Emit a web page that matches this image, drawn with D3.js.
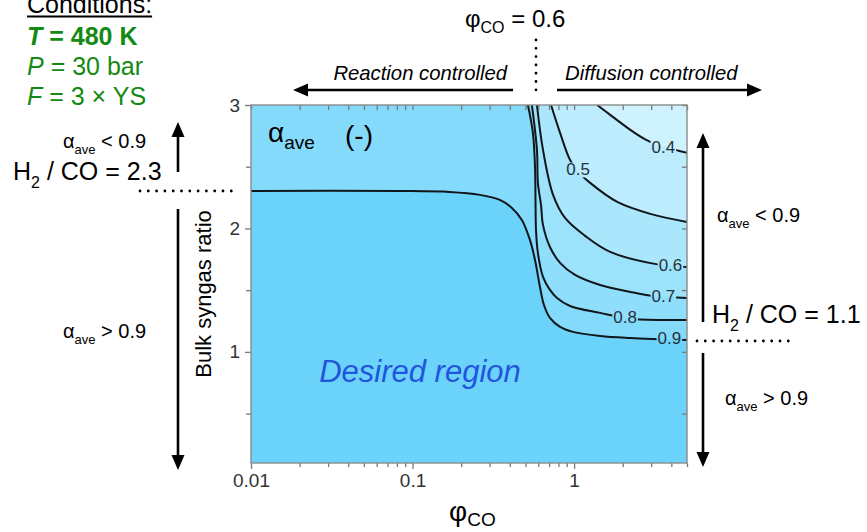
<!DOCTYPE html>
<html><head><meta charset="utf-8">
<script src="https://cdn.jsdelivr.net/npm/d3@7"></script>
<style>
body{margin:0;background:#fff}
svg{display:block;font-family:Arial,"Liberation Sans",sans-serif}
</style>
</head><body>
<svg id="c" width="867" height="532"></svg>
<script>
// ---------- data ----------
const xDomain = [0.01, 5];
const yDomain = [0.1, 3];
const xMajorTicks = [0.01, 0.1, 1];
const xTickLabels = ["0.01", "0.1", "1"];
const xMinorTicks = [0.02,0.03,0.04,0.05,0.06,0.07,0.08,0.09,0.2,0.3,0.4,0.5,0.6,0.7,0.8,0.9,2,3,4,5];
const yMajorTicks = [1, 2, 3];
const yTickLabels = ["1", "2", "3"];
const yMinorTicks = [0.5, 1.5, 2.5];
const contourLevels = [0.4, 0.5, 0.6, 0.7, 0.8, 0.9];
const contour04 = [[1.39,3.0],[1.673,2.92],[2.325,2.782],[2.965,2.701],[5,2.612]];
const contour05 = [[0.720,3.0],[0.819,2.774],[0.944,2.555],[1.059,2.46],[1.257,2.369],[1.85,2.215],[2.965,2.118],[5,2.053]];
const contour06 = [[0.589,3.0],[0.642,2.636],[0.741,2.272],[0.879,2.085],[1.17,1.940],[1.673,1.810],[3.42,1.705],[5,1.688]];
const contour07 = [[0.548,3.0],[0.589,2.636],[0.597,2.369],[0.624,2.191],[0.642,2.029],[0.709,1.850],[0.819,1.721],[1.014,1.624],[1.45,1.542],[2.23,1.486],[3.095,1.453],[5,1.437]];
const contour08 = [[0.518,3.0],[0.556,2.774],[0.573,2.499],[0.577,2.231],[0.581,1.988],[0.597,1.802],[0.642,1.607],[0.709,1.502],[0.784,1.437],[0.944,1.372],[1.45,1.316],[2.325,1.267],[5,1.259]];
const contour09 = [[0.01,2.304],[0.083,2.304],[0.170,2.296],[0.261,2.272],[0.347,2.231],[0.412,2.166],[0.475,2.069],[0.533,1.907],[0.573,1.745],[0.615,1.526],[0.651,1.380],[0.709,1.275],[0.819,1.202],[0.986,1.162],[1.45,1.129],[2.23,1.113],[5,1.097]];
const contourLabelPhi = [3.57, 1.059, 3.95, 3.57, 2.07, 3.89];
const contourLabelRatio = [2.653, 2.474, 1.696, 1.445, 1.275, 1.105];
const regionColors = ["#cff3fe","#bcecfd","#aae7fc","#9de2fb","#8fdefb","#84dafa","#6bd3f9"];

// ---------- setup ----------
const W = 867, H = 532;
const plot = {l:251, r:687, t:105, b:463};
const svg = d3.select("#c");
const x = d3.scaleLog().domain(xDomain).range([plot.l, plot.r]);
const y = d3.scaleLinear().domain(yDomain).range([plot.b, plot.t]);
const defs = svg.append("defs");
defs.append("clipPath").attr("id","clip").append("rect")
  .attr("x",plot.l).attr("y",plot.t).attr("width",plot.r-plot.l).attr("height",plot.b-plot.t);
const mask = defs.append("mask").attr("id","lblmask").attr("maskUnits","userSpaceOnUse")
  .attr("x",0).attr("y",0).attr("width",W).attr("height",H);
mask.append("rect").attr("x",0).attr("y",0).attr("width",W).attr("height",H).attr("fill","white");

const contours = [contour04, contour05, contour06, contour07, contour08, contour09];
const lineGen = d3.line().curve(d3.curveCatmullRom.alpha(0.5));

const gPlot = svg.append("g").attr("clip-path","url(#clip)");
gPlot.append("rect").attr("x",plot.l).attr("y",plot.t).attr("width",plot.r-plot.l).attr("height",plot.b-plot.t)
  .attr("fill",regionColors[0]);
contours.forEach((c,i)=>{
  const pts = c.map(d=>[x(d[0]), y(d[1])]);
  let p = lineGen(pts);
  p += `L${x(xDomain[1])},${y(yDomain[0])}L${x(xDomain[0])},${y(yDomain[0])}`;
  if (c[0][1] >= yDomain[1]-1e-6) p += `L${x(xDomain[0])},${y(yDomain[1])}`;
  p += "Z";
  gPlot.append("path").attr("d",p).attr("fill",regionColors[i+1]);
});
const gLines = gPlot.append("g").attr("mask","url(#lblmask)");
contours.forEach(c=>{
  gLines.append("path").attr("d", lineGen(c.map(d=>[x(d[0]),y(d[1])])))
    .attr("fill","none").attr("stroke","#11161a").attr("stroke-width",2);
});
const gLbl = svg.append("g");
contourLevels.forEach((lv,i)=>{
  const t = gLbl.append("text").attr("x",x(contourLabelPhi[i])).attr("y",y(contourLabelRatio[i]))
    .attr("text-anchor","middle").attr("dominant-baseline","central")
    .attr("font-size",17).attr("fill","#26323b").text(lv.toFixed(1));
  const b = t.node().getBBox();
  mask.append("rect").attr("x",b.x-1).attr("y",b.y+2).attr("width",b.width+2).attr("height",b.height-4).attr("fill","black");
});

// ---------- axes ----------
function styleAxis(g){
  g.select(".domain").remove();
  g.selectAll(".tick line").attr("stroke","#7a7a7a").attr("stroke-width",1.3);
  g.selectAll(".tick text").attr("fill","#333").attr("font-size",19).attr("font-family","Arial,'Liberation Sans',sans-serif");
}
svg.append("g").attr("transform",`translate(0,${plot.b})`)
  .call(d3.axisBottom(x).tickValues(xMajorTicks).tickFormat((d,i)=>xTickLabels[i]).tickSize(6).tickPadding(5)).call(styleAxis);
svg.append("g").attr("transform",`translate(0,${plot.b})`)
  .call(d3.axisBottom(x).tickValues(xMinorTicks).tickFormat("").tickSize(4)).call(styleAxis);
svg.append("g").attr("transform",`translate(0,${plot.t})`)
  .call(d3.axisTop(x).tickValues(xMajorTicks.concat(xMinorTicks)).tickFormat("").tickSize(-5)).call(styleAxis);
svg.append("g").attr("transform",`translate(${plot.l},0)`)
  .call(d3.axisLeft(y).tickValues(yMajorTicks).tickFormat((d,i)=>yTickLabels[i]).tickSize(6).tickPadding(5)).call(styleAxis);
svg.append("g").attr("transform",`translate(${plot.l},0)`)
  .call(d3.axisLeft(y).tickValues(yMinorTicks).tickFormat("").tickSize(5)).call(styleAxis);
svg.append("g").attr("transform",`translate(${plot.r},0)`)
  .call(d3.axisRight(y).tickValues(yMajorTicks.concat(yMinorTicks)).tickFormat("").tickSize(-5)).call(styleAxis);
svg.append("rect").attr("x",plot.l).attr("y",plot.t).attr("width",plot.r-plot.l).attr("height",plot.b-plot.t)
  .attr("fill","none").attr("stroke","#8a8a8a").attr("stroke-width",1.4);

// ---------- text helpers ----------
function rich(px, py, parts, size, subSize, attrs, subShift){
  const t = svg.append("text").attr("x",px).attr("y",py).attr("font-size",size);
  Object.entries(attrs||{}).forEach(([k,v])=>t.attr(k,v));
  let shifted = 0;
  parts.forEach(p=>{
    const s = t.append("tspan").text(p.t);
    const want = p.sub ? (subShift!==undefined ? subShift : size*0.3) : 0;
    if (want !== shifted){ s.attr("dy", want-shifted); shifted = want; }
    if (p.sub) s.attr("font-size", subSize);
    if (p.italic) s.attr("font-style","italic");
  });
  return t;
}
function arrowV(xp, y1, y2){
  const dir = Math.sign(y2-y1), hl = 15, hw = 6.5;
  svg.append("line").attr("x1",xp).attr("x2",xp).attr("y1",y1).attr("y2",y2-dir*hl)
    .attr("stroke","#000").attr("stroke-width",2.6);
  svg.append("path").attr("d",`M${xp},${y2}L${xp-hw},${y2-dir*hl}L${xp+hw},${y2-dir*hl}Z`).attr("fill","#000");
}
function arrowH(yp, x1, x2){
  const dir = Math.sign(x2-x1), hl = 15, hw = 6.5;
  svg.append("line").attr("y1",yp).attr("y2",yp).attr("x1",x1).attr("x2",x2-dir*hl)
    .attr("stroke","#000").attr("stroke-width",2.6);
  svg.append("path").attr("d",`M${x2},${yp}L${x2-dir*hl},${yp-hw}L${x2-dir*hl},${yp+hw}Z`).attr("fill","#000");
}
function dotted(x1,y1,x2,y2){
  svg.append("line").attr("x1",x1).attr("y1",y1).attr("x2",x2).attr("y2",y2)
    .attr("stroke","#000").attr("stroke-width",2.8).attr("stroke-linecap","round").attr("stroke-dasharray","0,8.3");
}

// ---------- conditions ----------
const green = "#148a14";
const cond = svg.append("text").attr("x",27).attr("y",13).attr("font-size",25).attr("fill","#000").text("Conditions:");
const cw = cond.node().getBBox().width;
svg.append("line").attr("x1",27).attr("x2",27+cw).attr("y1",16.5).attr("y2",16.5).attr("stroke","#000").attr("stroke-width",2);
rich(27,45,[{t:"T",italic:true},{t:" = 480 K"}],25,16,{fill:green,"font-weight":"bold"});
rich(27,75,[{t:"P",italic:true},{t:" = 30 bar"}],25,16,{fill:green});
rich(27,105,[{t:"F",italic:true},{t:" = 3 × YS"}],25,16,{fill:green});

// ---------- top ----------
rich(465,27,[{t:"φ"},{t:"CO",sub:true},{t:" = 0.6"}],24,16,{fill:"#000"},6);
dotted(536,40,536,98);
svg.append("text").attr("x",507).attr("y",80).attr("text-anchor","end").attr("font-size",20.3).attr("font-style","italic").text("Reaction controlled");
svg.append("text").attr("x",565).attr("y",80).attr("font-size",20.3).attr("font-style","italic").text("Diffusion controlled");
arrowH(90,513,293);
arrowH(90,557,762);

// ---------- left ----------
rich(63,148,[{t:"α"},{t:"ave",sub:true},{t:" < 0.9"}],20,13,{});
rich(13,180,[{t:"H"},{t:"2",sub:true},{t:" / CO = 2.3"}],25,16,{});
dotted(140,191,238,191);
rich(63,338,[{t:"α"},{t:"ave",sub:true},{t:" > 0.9"}],20,13,{});
arrowV(178,172,122);
arrowV(178,209,470);
svg.append("text").attr("transform","translate(211,294) rotate(-90)").attr("text-anchor","middle")
  .attr("font-size",22).text("Bulk syngas ratio");

// ---------- right ----------
rich(717,222,[{t:"α"},{t:"ave",sub:true},{t:" < 0.9"}],20,13,{});
rich(712,323,[{t:"H"},{t:"2",sub:true},{t:" / CO = 1.1"}],25,16,{});
dotted(697,341,792,341);
rich(725,405,[{t:"α"},{t:"ave",sub:true},{t:" > 0.9"}],20,13,{});
arrowV(703,322,133);
arrowV(703,353,467);

// ---------- in plot ----------
rich(268,142,[{t:"α"},{t:"ave",sub:true}],28,19,{},7);
svg.append("text").attr("x",345).attr("y",145).attr("font-size",28).text("(-)");
svg.append("text").attr("x",420).attr("y",382).attr("text-anchor","middle").attr("font-size",31)
  .attr("font-style","italic").attr("fill","#2255dd").text("Desired region");

// ---------- x label ----------
rich(449,521,[{t:"φ"},{t:"CO",sub:true}],28,19,{},5);
</script>
</body></html>
